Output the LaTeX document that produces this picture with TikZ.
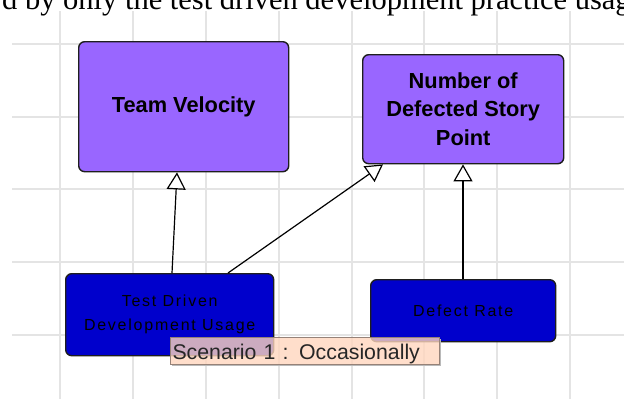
\documentclass[tikz,border=0pt]{standalone}
\usepackage{fontspec}
\setmainfont{Liberation Serif}
\newfontfamily\arialf{Liberation Sans}
\newfontfamily\arialsp[LetterSpace=11]{Liberation Sans}
\usetikzlibrary{arrows.meta,calc}
\definecolor{purp}{RGB}{153,102,255}
\definecolor{dblue}{RGB}{0,0,204}
\definecolor{peach}{RGB}{255,214,190}
\definecolor{gridc}{RGB}{228,228,228}
\definecolor{edgec}{RGB}{30,30,30}
\definecolor{labeledge}{RGB}{150,130,120}
\definecolor{shadowc}{RGB}{185,185,185}
\tikzset{
  gridline/.style={draw=gridc, line width=1.6pt},
  bigbox/.style={anchor=north west, rounded corners=6pt, fill=purp, draw=edgec, line width=1.4pt,
    inner sep=0pt, align=center, font=\arialf\bfseries\fontsize{21.8}{28.5}\selectfont},
  smallbox/.style={anchor=north west, rounded corners=6pt, fill=dblue, draw=edgec, line width=1.4pt,
    inner sep=0pt, align=center, font=\arialsp\fontsize{16}{24}\selectfont, text=black},
  conn/.style={draw=black, line width=1.2pt, -{Triangle[fill=white, length=17pt, width=19pt]}},
  scenbox/.style={anchor=north west, fill=peach, fill opacity=0.8, text opacity=1, draw=labeledge,
    line width=1pt, inner xsep=2pt, inner ysep=0pt, text width=265pt, align=left,
    minimum height=27pt, text height=16pt, text depth=0pt,
    font=\arialf\fontsize{21.3}{24}\selectfont, text=black!85}
}
\begin{document}
\begin{tikzpicture}[x=1pt,y=-1pt]
\useasboundingbox (0,0) rectangle (624,399);
\clip (0,0) rectangle (624,399);
\fill[white] (0,0) rectangle (624,399);
% grid
\foreach \gx in {60,133,206,279,352,424,497,570} \draw[gridline] (\gx,11) -- (\gx,399);
\foreach \gy in {44,117,189,262,335} \draw[gridline] (12,\gy) -- (624,\gy);
% cut-off caption text at the top
\node[anchor=base west, inner sep=0pt, font=\fontsize{30.5}{32}\selectfont] (cut) at (2,9) {d by only the test driven development practice usag};
% boxes
\node[bigbox, minimum width=210pt, minimum height=130pt] (tv) at (78,41) {Team Velocity};
\node[bigbox, minimum width=201pt, minimum height=109pt] (num) at (362,54) {Number of\\Defected Story\\Point};
\node[smallbox, minimum width=208pt, minimum height=82pt] (tdd) at (65,273) {Test Driven\\Development Usage};
\node[smallbox, minimum width=185pt, minimum height=62pt] (dr) at (370,279) {Defect Rate};
% connectors
\draw[conn] ($(tdd.north west)+(107,0)$) -- ($(tv.south west)+(99,0)$);
\draw[conn] ($(tdd.north west)+(163,0)$) -- ($(num.south west)+(21,0)$);
\draw[conn] ($(dr.north west)+(93,0)$) -- ($(num.south west)+(101,0)$);
% scenario label
\fill[shadowc] (172,364) rectangle (441,366);
\fill[shadowc] (439,339) rectangle (441,366);
\node[scenbox] (scen) at (170,337) {Scenario 1 : Occasionally};
\end{tikzpicture}
\end{document}
